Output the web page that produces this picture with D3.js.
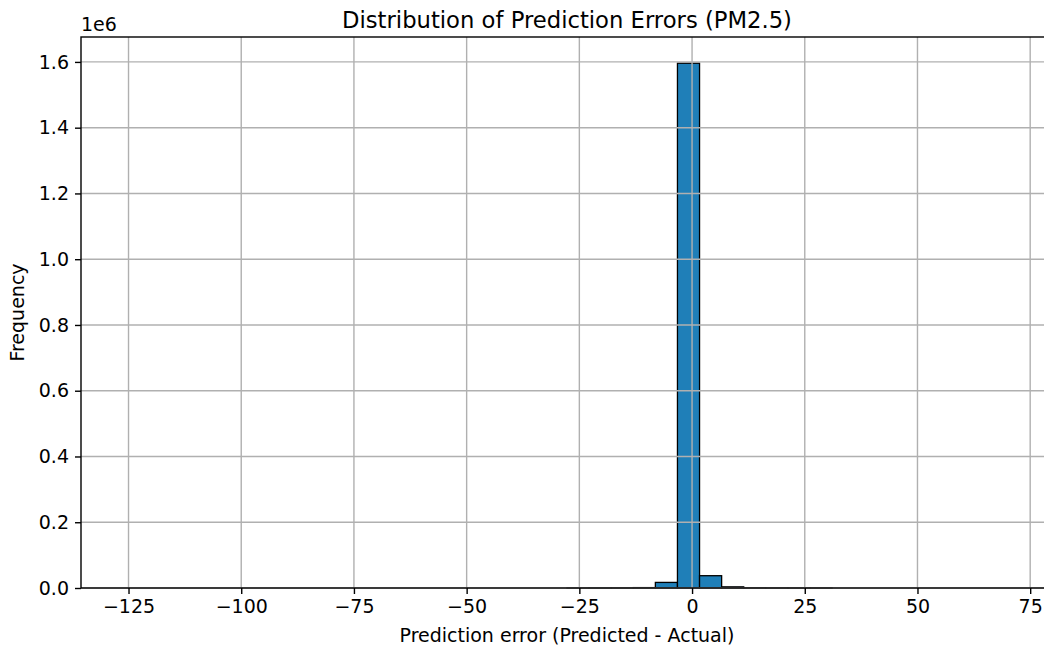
<!DOCTYPE html>
<html>
<head>
<meta charset="utf-8">
<script src="https://cdn.jsdelivr.net/npm/d3@7"></script>
<style>
  body { margin: 0; background: #fff; }
  svg { display: block; font-family: "DejaVu Sans", sans-serif; }
</style>
</head>
<body>
<div id="chart"></div>
<script>
// histogram: 40 bins from -125.74, each 4.9 wide
const binStart = -125.74;
const binWidth = 4.9;
const counts = [
    0, 0, 0, 0, 0, 0, 0, 0, 0, 0,
    0, 0, 0, 0, 0, 0, 0, 0, 0, 0,
    20, 60, 250, 1200, 17000, 1596000, 37400, 3500, 600, 150,
    40, 10, 0, 0, 0, 0, 0, 0, 0, 0
];
const xTicks = [-125, -100, -75, -50, -25, 0, 25, 50, 75];
const yTicks = [0, 0.2e6, 0.4e6, 0.6e6, 0.8e6, 1.0e6, 1.2e6, 1.4e6, 1.6e6];

const bins = counts.map((c, i) => ({
    x0: binStart + i * binWidth,
    x1: binStart + (i + 1) * binWidth,
    count: c
}));

const width = 1044, height = 648;
const margin = { top: 37, right: -9, bottom: 60, left: 81 };

const svg = d3.select("#chart").append("svg")
    .attr("width", width)
    .attr("height", height);

const dataMin = binStart, dataMax = binStart + counts.length * binWidth;
const pad = 0.05 * (dataMax - dataMin);

const x = d3.scaleLinear()
    .domain([dataMin - pad, dataMax + pad])
    .range([margin.left, width - margin.right]);

const y = d3.scaleLinear()
    .domain([0, d3.max(counts) * 1.05])
    .range([height - margin.bottom, margin.top]);

// bars
svg.append("g").selectAll("rect")
    .data(bins)
    .enter()
    .append("rect")
    .attr("x", d => x(d.x0))
    .attr("width", d => x(d.x1) - x(d.x0))
    .attr("y", d => y(d.count))
    .attr("height", d => y(0) - y(d.count))
    .attr("fill", "#1f7fb8")
    .attr("stroke", "#000")
    .attr("stroke-width", 1.3);

// grid (drawn over bars, like the original)
const grid = svg.append("g").attr("stroke", "#b0b0b0").attr("stroke-width", 1.4);
grid.selectAll("line.gx").data(xTicks).enter().append("line")
    .attr("x1", d => x(d)).attr("x2", d => x(d))
    .attr("y1", margin.top).attr("y2", height - margin.bottom);
grid.selectAll("line.gy").data(yTicks).enter().append("line")
    .attr("y1", d => y(d)).attr("y2", d => y(d))
    .attr("x1", margin.left).attr("x2", width - margin.right);

// axes
const xAxis = svg.append("g")
    .attr("transform", `translate(0,${height - margin.bottom})`)
    .call(d3.axisBottom(x).tickValues(xTicks).tickSize(6).tickPadding(6)
        .tickFormat(d => d < 0 ? "\u2212" + Math.abs(d) : d));
const yAxis = svg.append("g")
    .attr("transform", `translate(${margin.left},0)`)
    .call(d3.axisLeft(y).tickValues(yTicks).tickSize(6).tickPadding(6)
        .tickFormat(d => (d / 1e6).toFixed(1)));

[xAxis, yAxis].forEach(a => {
    a.select(".domain").remove();
    a.selectAll("text").attr("font-size", 19).attr("fill", "#000")
        .attr("font-family", "DejaVu Sans");
    a.selectAll("line").attr("stroke", "#000").attr("stroke-width", 1.4);
});

// spines
svg.append("rect")
    .attr("x", margin.left).attr("y", margin.top)
    .attr("width", width - margin.right - margin.left)
    .attr("height", height - margin.bottom - margin.top)
    .attr("fill", "none").attr("stroke", "#000").attr("stroke-width", 1.4);

// offset text
svg.append("text")
    .attr("x", margin.left).attr("y", margin.top - 6)
    .attr("font-size", 19)
    .text("1e6");

// title and labels
const cx = (margin.left + width - margin.right) / 2;
svg.append("text")
    .attr("x", cx).attr("y", 28)
    .attr("text-anchor", "middle")
    .attr("font-size", 22.7)
    .text("Distribution of Prediction Errors (PM2.5)");

svg.append("text")
    .attr("x", cx).attr("y", 642)
    .attr("text-anchor", "middle")
    .attr("font-size", 19)
    .text("Prediction error (Predicted - Actual)");

svg.append("text")
    .attr("transform", `translate(24,${(margin.top + height - margin.bottom) / 2}) rotate(-90)`)
    .attr("text-anchor", "middle")
    .attr("font-size", 19)
    .text("Frequency");
</script>
</body>
</html>
